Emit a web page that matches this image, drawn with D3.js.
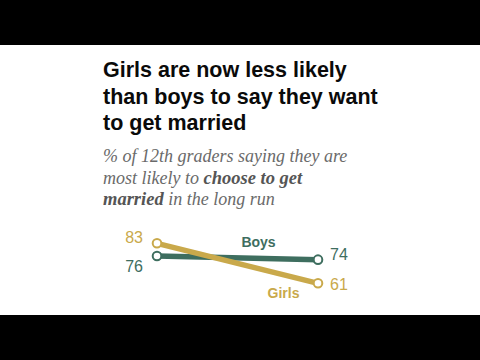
<!DOCTYPE html>
<html>
<head>
<meta charset="utf-8">
<script src="https://cdn.jsdelivr.net/npm/d3@7"></script>
<style>
  html, body { margin: 0; padding: 0; background: #000; }
  svg { display: block; }
</style>
</head>
<body>
<svg id="chart" width="480" height="360"></svg>
<script>
// ---- data ----
const categories = ["Earlier", "Latest"];
const seriesNames = ["Boys", "Girls"];
const boysValues = [76, 74];
const girlsValues = [83, 61];
const titleLines = ["Girls are now less likely", "than boys to say they want", "to get married"];

const colors = { Boys: "#3e6e5f", Girls: "#c9a94b" };

const svg = d3.select("#chart");
// frame: white panel between black bars
svg.append("rect").attr("x", 0).attr("y", 0).attr("width", 480).attr("height", 360).attr("fill", "#000");
svg.append("rect").attr("x", 0).attr("y", 45).attr("width", 480).attr("height", 270).attr("fill", "#fff");

// title
const title = svg.append("text")
  .attr("font-family", "'Liberation Sans', Arial, sans-serif")
  .attr("font-weight", "bold")
  .attr("font-size", 21.5)
  .attr("fill", "#0a0a0a");
titleLines.forEach((t, i) => {
  title.append("tspan").attr("x", 103).attr("y", 77 + i * 26.5).text(t);
});

// subtitle
const sub = svg.append("text")
  .attr("font-family", "'Liberation Serif', 'DejaVu Serif', serif")
  .attr("font-style", "italic")
  .attr("font-size", 18)
  .attr("fill", "#6a6a6a");
sub.append("tspan").attr("x", 103).attr("y", 162).text("% of 12th graders saying they are");
sub.append("tspan").attr("x", 103).attr("y", 184).text("most likely to ");
sub.append("tspan").attr("font-weight", "bold").attr("fill", "#555").attr("font-size", 18.5).text("choose to get");
sub.append("tspan").attr("x", 103).attr("y", 205).attr("font-weight", "bold").attr("fill", "#555").attr("font-size", 18.5).text("married");
sub.append("tspan").attr("font-weight", "normal").attr("fill", "#6a6a6a").text(" in the long run");

// scales
const x = d3.scalePoint().domain(categories).range([157, 318]);
const y = d3.scaleLinear().domain([61, 83]).range([283.3, 243.3]);

const series = [
  { name: "Boys", values: boysValues },
  { name: "Girls", values: girlsValues }
];

const line = d3.line().x((d, i) => x(categories[i])).y(d => y(d));

const g = svg.append("g");
series.forEach(s => {
  g.append("path")
    .attr("d", line(s.values))
    .attr("fill", "none")
    .attr("stroke", colors[s.name])
    .attr("stroke-width", 5.5);
});
series.forEach(s => {
  g.selectAll(null).data(s.values).enter().append("circle")
    .attr("cx", (d, i) => x(categories[i]))
    .attr("cy", d => y(d))
    .attr("r", 4.3)
    .attr("fill", "#fff")
    .attr("stroke", colors[s.name])
    .attr("stroke-width", 2);
});

// value labels
const leftDy = { Boys: 16, Girls: -0.5 };
const rightDy = { Boys: 0, Girls: 6.5 };
series.forEach(s => {
  g.append("text")
    .attr("x", x(categories[0]) - 14)
    .attr("y", y(s.values[0]) + leftDy[s.name])
    .attr("text-anchor", "end")
    .attr("font-family", "'Liberation Sans', Arial, sans-serif")
    .attr("font-size", 16)
    .attr("fill", colors[s.name])
    .text(s.values[0]);
  g.append("text")
    .attr("x", x(categories[1]) + 12)
    .attr("y", y(s.values[1]) + rightDy[s.name])
    .attr("text-anchor", "start")
    .attr("font-family", "'Liberation Sans', Arial, sans-serif")
    .attr("font-size", 16)
    .attr("fill", colors[s.name])
    .text(s.values[1]);
});

// series name labels
const nameLabels = { Boys: { x: 258.5, y: 246.7 }, Girls: { x: 283.5, y: 298 } };
series.forEach(s => {
  g.append("text")
    .attr("x", nameLabels[s.name].x)
    .attr("y", nameLabels[s.name].y)
    .attr("text-anchor", "middle")
    .attr("font-family", "'Liberation Sans', Arial, sans-serif")
    .attr("font-weight", "bold")
    .attr("font-size", 14)
    .attr("fill", colors[s.name])
    .text(s.name);
});
</script>
</body>
</html>
